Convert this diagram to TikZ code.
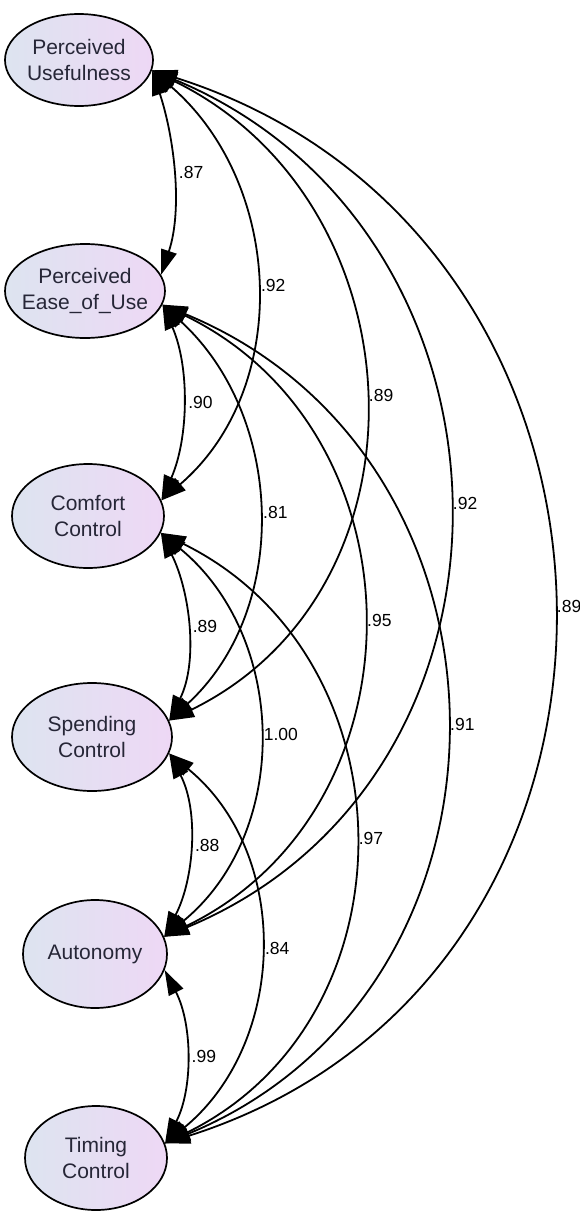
\documentclass[tikz,border=0pt]{standalone}
\usepackage{fontspec}
\setmainfont{Liberation Sans}
\usetikzlibrary{shapes.geometric,arrows.meta,calc}
\definecolor{fillL}{RGB}{221,228,240}
\definecolor{fillR}{RGB}{238,216,245}
\definecolor{txt}{RGB}{38,38,55}
\tikzset{
  latent/.style={ellipse, draw=black, line width=1.7pt, left color=fillL, right color=fillR,
    inner sep=0pt, inner xsep=-14pt, align=center, text=txt,
    font=\fontsize{21}{25.5}\selectfont},
  covline/.style={line width=1.8pt, {Triangle[length=25pt,width=16pt]}-{Triangle[length=25pt,width=16pt]}},
  covlabel/.style={anchor=west, inner sep=0pt, xshift=5pt, font=\fontsize{17.5}{21}\selectfont, text=black}
}
\newcommand\covpath[6]{%
  \draw[covline] (#1) .. controls ($(#1)+(#3,#4)$) and ($(#2)+(#3,-#4)$) .. (#2)
    node[covlabel, pos=0.5] (#6) {#5};}
\begin{document}
\begin{tikzpicture}[x=1pt,y=-1pt]
\useasboundingbox (0,0) rectangle (580,1212);
\node[latent, minimum width=148pt, minimum height=92pt] (pu) at (79,60) {Perceived\\Usefulness};
\node[latent, minimum width=160pt, minimum height=94pt] (peou) at (85,291) {Perceived\\Ease\_of\_Use};
\node[latent, minimum width=152pt, minimum height=104pt] (cc) at (88,516) {Comfort\\Control};
\node[latent, minimum width=160pt, minimum height=108pt] (sc) at (92,737) {Spending\\Control};
\node[latent, minimum width=144pt, minimum height=108pt] (au) at (95,954) {Autonomy};
\node[latent, minimum width=142pt, minimum height=104pt] (tc) at (96,1158) {Timing\\Control};

\covpath{pu.-8.7}{peou.12}{22}{66.2}{.87}{l1}
\covpath{pu.-8.7}{cc.12.5}{131.3}{112.8}{.92}{l2}
\covpath{pu.-8.7}{sc.12.6}{270}{132.2}{.89}{l3}
\covpath{pu.-8.7}{au.14}{385.3}{160.2}{.92}{l4}
\covpath{pu.-8.7}{tc.12.4}{523.3}{165.8}{.89}{l5}
\covpath{peou.-10.4}{cc.12.5}{27.3}{62.1}{.90}{l6}
\covpath{peou.-10.4}{sc.12.6}{122}{111.5}{.81}{l7}
\covpath{peou.-10.4}{au.14}{264}{127.9}{.95}{l8}
\covpath{peou.-10.4}{tc.12.4}{374}{154.2}{.91}{l9}
\covpath{cc.-13.3}{sc.12.6}{29.3}{58.9}{.89}{l10}
\covpath{cc.-13.3}{au.14}{127.3}{104.5}{1.00}{l11}
\covpath{cc.-13.3}{tc.12.4}{253.3}{124.4}{.97}{l12}
\covpath{sc.-12.6}{au.14}{30}{57.3}{.88}{l13}
\covpath{sc.-12.6}{tc.12.4}{122.7}{100.6}{.84}{l14}
\covpath{au.-13.1}{tc.12.4}{28}{54.3}{.99}{l15}
\end{tikzpicture}
\end{document}
